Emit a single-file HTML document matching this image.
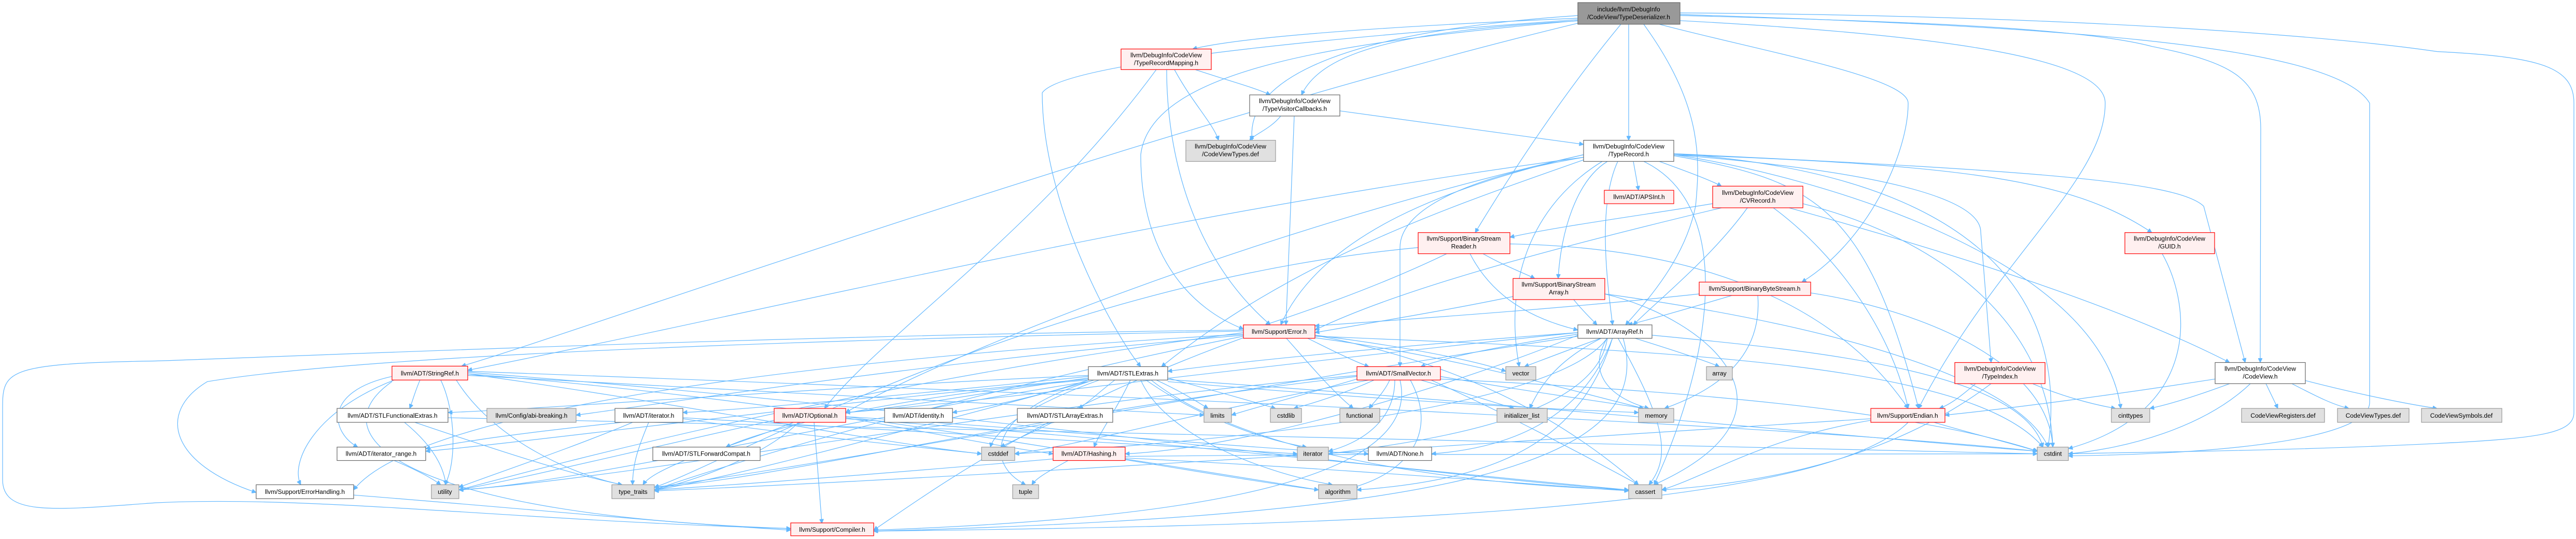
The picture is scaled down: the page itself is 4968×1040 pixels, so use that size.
<!DOCTYPE html>
<html><head><meta charset="utf-8"><style>
html,body{margin:0;padding:0;background:#fff;}
svg{display:block;}
text{font-family:"Liberation Sans",sans-serif;font-size:12px;fill:#000;text-anchor:middle;}
.e path{fill:none;stroke:#63b8ff;stroke-width:1.2;}
.w{fill:#fff;stroke:#666;stroke-width:1.2;}
.g{fill:#e0e0e0;stroke:#999;stroke-width:1.2;}
.r{fill:#fff0f0;stroke:#f00;stroke-width:1.2;}
.t{fill:#999;stroke:#666;stroke-width:1.2;}
</style></head><body>
<svg width="4968" height="1040" viewBox="0 0 4968 1040" xmlns="http://www.w3.org/2000/svg">
<defs><marker id="a" viewBox="0 0 10 10" refX="10" refY="5" markerUnits="userSpaceOnUse" markerWidth="10" markerHeight="8" orient="auto"><path d="M0,0 L10,5 L0,10 z" fill="#63b8ff" stroke="#63b8ff"/></marker></defs>
<g transform="scale(1,0.995)">
<g class="e">
<path marker-end="url(#a)" d="M3050,35 C2700,50 2400,70 2300,95"/>
<path marker-end="url(#a)" d="M3050,40 C2700,60 2550,100 2510,184"/>
<path marker-end="url(#a)" d="M3045,30 C2600,60 2400,150 2415,272"/>
<path marker-end="url(#a)" d="M3141,47 L3141,272"/>
<path marker-end="url(#a)" d="M3126,47 C3000,200 2900,360 2845,451"/>
<path marker-end="url(#a)" d="M3170,47 C3280,200 3280,300 3270,400 C3250,500 3180,580 3135,630"/>
<path marker-end="url(#a)" d="M3200,47 C3400,100 3680,150 3680,200 C3680,300 3600,470 3475,547"/>
<path marker-end="url(#a)" d="M3240,30 C3600,40 4000,50 4150,90 C4300,120 4360,150 4360,250 L4359,703"/>
<path marker-end="url(#a)" d="M3043,40 C2600,80 2220,130 2200,300 C2200,500 2300,600 2398,638"/>
<path marker-end="url(#a)" d="M3043,45 C2200,250 1100,650 890,710"/>
<path marker-end="url(#a)" d="M3043,38 C2600,70 2050,120 2010,180 C2010,400 2150,650 2200,711"/>
<path marker-end="url(#a)" d="M3240,25 C4000,30 4500,70 4700,100 C4900,110 4964,130 4964,200 L4964,800 C4964,840 4900,850 4700,860 C4400,875 4100,877 3989,880"/>
<path marker-end="url(#a)" d="M3240,40 C3800,70 4060,120 4060,200 C4060,350 3850,500 3700,792"/>
<path marker-end="url(#a)" d="M3240,28 C3900,50 4500,80 4570,200 L4570,780 C4570,850 4300,880 3989,884"/>
<path marker-end="url(#a)" d="M2305,135 C2380,160 2420,170 2450,184"/>
<path marker-end="url(#a)" d="M2265,135 C2300,200 2340,240 2350,272"/>
<path marker-end="url(#a)" d="M2250,135 C2250,300 2300,500 2450,630"/>
<path marker-end="url(#a)" d="M2230,135 C2000,450 1700,650 1590,792"/>
<path marker-end="url(#a)" d="M2470,225 C2450,250 2420,260 2410,272"/>
<path marker-end="url(#a)" d="M2584,215 C2800,245 2950,265 3054,280"/>
<path marker-end="url(#a)" d="M2496,225 C2490,400 2485,500 2480,630"/>
<path marker-end="url(#a)" d="M3150,313 L3160,369"/>
<path marker-end="url(#a)" d="M3200,313 C3260,335 3300,350 3320,361"/>
<path marker-end="url(#a)" d="M3100,313 C3040,350 3010,450 3005,540"/>
<path marker-end="url(#a)" d="M3120,313 C3080,400 3100,550 3110,630"/>
<path marker-end="url(#a)" d="M3054,305 C2850,340 2700,400 2700,480 L2700,711"/>
<path marker-end="url(#a)" d="M3090,313 C2950,400 2900,550 2930,711"/>
<path marker-end="url(#a)" d="M3054,300 C2800,360 2550,450 2470,630"/>
<path marker-end="url(#a)" d="M3054,305 C2200,420 1500,600 902,718"/>
<path marker-end="url(#a)" d="M3054,310 C2800,400 2500,500 2240,711"/>
<path marker-end="url(#a)" d="M3228,300 C3600,330 3820,380 3820,450 L3840,703"/>
<path marker-end="url(#a)" d="M3228,298 C3900,330 4200,350 4250,400 L4330,703"/>
<path marker-end="url(#a)" d="M3228,300 C3800,320 4000,350 4150,451"/>
<path marker-end="url(#a)" d="M3228,302 C3500,350 3600,400 3700,792"/>
<path marker-end="url(#a)" d="M3228,298 C3700,330 4000,500 3950,867"/>
<path marker-end="url(#a)" d="M3228,300 C3500,340 4050,500 4090,792"/>
<path marker-end="url(#a)" d="M3054,300 C2400,450 1800,700 1631,800"/>
<path marker-end="url(#a)" d="M3170,313 C3350,400 3300,700 3190,940"/>
<path marker-end="url(#a)" d="M3303,395 C3150,420 3000,440 2912,460"/>
<path marker-end="url(#a)" d="M3370,403 C3300,500 3200,580 3150,630"/>
<path marker-end="url(#a)" d="M3320,403 C3000,480 2700,560 2536,640"/>
<path marker-end="url(#a)" d="M3420,403 C3550,500 3650,650 3680,792"/>
<path marker-end="url(#a)" d="M3450,403 C3800,500 4100,600 4300,703"/>
<path marker-end="url(#a)" d="M3477,395 C3700,450 3950,600 3959,867"/>
<path marker-end="url(#a)" d="M2860,492 C2900,515 2940,530 2960,540"/>
<path marker-end="url(#a)" d="M2835,492 C2880,580 2960,620 3043,640"/>
<path marker-end="url(#a)" d="M2790,492 C2650,560 2500,610 2440,630"/>
<path marker-end="url(#a)" d="M2912,473 C3300,480 3550,600 3680,792"/>
<path marker-end="url(#a)" d="M2735,480 C2000,550 1400,900 1262,945"/>
<path marker-end="url(#a)" d="M3035,581 C3050,600 3070,620 3080,630"/>
<path marker-end="url(#a)" d="M2918,575 C2800,600 2650,625 2536,645"/>
<path marker-end="url(#a)" d="M3095,570 C3300,620 3500,800 3190,940"/>
<path marker-end="url(#a)" d="M3095,570 C3600,640 3900,750 3950,867"/>
<path marker-end="url(#a)" d="M3340,573 C3250,600 3180,620 3140,630"/>
<path marker-end="url(#a)" d="M3277,570 C3000,600 2700,620 2536,632"/>
<path marker-end="url(#a)" d="M3390,573 C3400,700 3300,760 3210,792"/>
<path marker-end="url(#a)" d="M3492,568 C3700,600 3950,700 3959,867"/>
<path marker-end="url(#a)" d="M2480,655 C2520,700 2570,760 2610,792"/>
<path marker-end="url(#a)" d="M2520,655 C2570,680 2610,700 2640,711"/>
<path marker-end="url(#a)" d="M2536,650 C2700,670 2850,700 2904,720"/>
<path marker-end="url(#a)" d="M2398,648 C1500,700 800,800 682,950"/>
<path marker-end="url(#a)" d="M2398,650 C1800,700 1300,780 1111,805"/>
<path marker-end="url(#a)" d="M2398,655 C2000,800 1800,950 1685,1028"/>
<path marker-end="url(#a)" d="M2536,650 C2800,700 3000,800 3160,940"/>
<path marker-end="url(#a)" d="M2536,655 C2800,690 3000,750 3170,792"/>
<path marker-end="url(#a)" d="M2398,645 C1600,750 1000,920 885,950"/>
<path marker-end="url(#a)" d="M2398,652 C1900,750 1400,900 1262,950"/>
<path marker-end="url(#a)" d="M2536,652 C3200,680 3800,700 3940,867"/>
<path marker-end="url(#a)" d="M2398,640 C1500,650 600,690 300,700 C0,705 5,720 5,800 L5,930 C5,1000 100,990 300,975 C600,960 1000,1010 1525,1025"/>
<path marker-end="url(#a)" d="M2398,642 C1500,660 700,690 400,740 C300,800 330,900 494,955"/>
<path marker-end="url(#a)" d="M3043,648 C2900,670 2800,690 2740,711"/>
<path marker-end="url(#a)" d="M3090,655 C3020,680 2970,700 2940,711"/>
<path marker-end="url(#a)" d="M3150,655 C3230,680 3290,700 3316,711"/>
<path marker-end="url(#a)" d="M3100,655 C3060,720 3100,770 3180,792"/>
<path marker-end="url(#a)" d="M3090,655 C3000,700 2970,750 2950,792"/>
<path marker-end="url(#a)" d="M3120,655 C3200,800 3230,880 3180,940"/>
<path marker-end="url(#a)" d="M3110,655 C3050,850 2900,930 2617,950"/>
<path marker-end="url(#a)" d="M3100,655 C3080,800 2800,850 2562,880"/>
<path marker-end="url(#a)" d="M3110,655 C3050,820 2900,870 2761,880"/>
<path marker-end="url(#a)" d="M3043,645 C2700,670 2400,700 2252,720"/>
<path marker-end="url(#a)" d="M3043,650 C2800,750 2400,870 2170,880"/>
<path marker-end="url(#a)" d="M3043,645 C2500,700 1900,780 1631,800"/>
<path marker-end="url(#a)" d="M3130,655 C3200,900 2800,1000 1685,1030"/>
<path marker-end="url(#a)" d="M3043,652 C2400,750 1600,900 1262,945"/>
<path marker-end="url(#a)" d="M3186,650 C3500,680 3900,720 3940,867"/>
<path marker-end="url(#a)" d="M3100,655 C3000,800 2300,860 1957,880"/>
<path marker-end="url(#a)" d="M2650,737 C2600,760 2540,780 2495,792"/>
<path marker-end="url(#a)" d="M2680,737 C2670,760 2650,780 2640,792"/>
<path marker-end="url(#a)" d="M2740,737 C2820,760 2880,780 2920,792"/>
<path marker-end="url(#a)" d="M2778,730 C2950,760 3100,780 3170,792"/>
<path marker-end="url(#a)" d="M2720,737 C2780,850 2700,920 2610,945"/>
<path marker-end="url(#a)" d="M2760,737 C2900,800 3050,880 3160,940"/>
<path marker-end="url(#a)" d="M2690,737 C2690,820 2620,860 2562,875"/>
<path marker-end="url(#a)" d="M2640,737 C2300,800 2100,860 1957,880"/>
<path marker-end="url(#a)" d="M2700,737 C2750,950 2200,1010 1685,1028"/>
<path marker-end="url(#a)" d="M2617,730 C2000,800 1500,930 1262,945"/>
<path marker-end="url(#a)" d="M2617,728 C2000,780 1200,930 885,950"/>
<path marker-end="url(#a)" d="M2617,735 C2500,770 2420,790 2375,805"/>
<path marker-end="url(#a)" d="M2778,735 C3300,760 3700,800 3930,875"/>
<path marker-end="url(#a)" d="M2150,737 C2120,760 2100,780 2080,792"/>
<path marker-end="url(#a)" d="M2099,737 C2000,770 1900,790 1837,800"/>
<path marker-end="url(#a)" d="M2099,733 C1900,760 1750,790 1631,800"/>
<path marker-end="url(#a)" d="M2099,730 C1800,760 1500,790 1317,800"/>
<path marker-end="url(#a)" d="M2099,728 C1600,750 1100,790 864,800"/>
<path marker-end="url(#a)" d="M2099,735 C1600,780 1000,860 821,875"/>
<path marker-end="url(#a)" d="M2099,737 C1800,760 1500,820 1400,867"/>
<path marker-end="url(#a)" d="M2120,737 C2000,780 1920,830 1910,867"/>
<path marker-end="url(#a)" d="M2180,737 C2150,800 2120,840 2110,867"/>
<path marker-end="url(#a)" d="M2110,737 C1900,800 1900,900 1978,940"/>
<path marker-end="url(#a)" d="M2230,737 C2280,760 2310,780 2330,792"/>
<path marker-end="url(#a)" d="M2252,733 C2350,760 2420,780 2460,792"/>
<path marker-end="url(#a)" d="M2252,740 C2600,770 2900,790 3160,800"/>
<path marker-end="url(#a)" d="M2200,737 C2250,850 2450,920 2570,940"/>
<path marker-end="url(#a)" d="M2220,737 C2400,880 2800,940 3141,950"/>
<path marker-end="url(#a)" d="M2210,737 C2300,800 2420,850 2520,867"/>
<path marker-end="url(#a)" d="M2099,740 C1700,800 1100,940 885,950"/>
<path marker-end="url(#a)" d="M2099,740 C1800,820 1400,930 1262,950"/>
<path marker-end="url(#a)" d="M2252,736 C2900,780 3600,850 3929,875"/>
<path marker-end="url(#a)" d="M810,737 C800,760 795,780 790,792"/>
<path marker-end="url(#a)" d="M756,730 C620,760 640,840 690,867"/>
<path marker-end="url(#a)" d="M850,737 C880,800 880,900 858,940"/>
<path marker-end="url(#a)" d="M880,737 C950,850 1100,920 1200,940"/>
<path marker-end="url(#a)" d="M760,737 C600,800 560,900 580,940"/>
<path marker-end="url(#a)" d="M756,740 C600,850 800,1000 1525,1025"/>
<path marker-end="url(#a)" d="M902,725 C1300,780 1700,860 1893,880"/>
<path marker-end="url(#a)" d="M902,725 C1600,780 2300,920 2543,950"/>
<path marker-end="url(#a)" d="M902,722 C1800,790 2800,930 3141,950"/>
<path marker-end="url(#a)" d="M902,720 C2000,760 3400,820 3929,875"/>
<path marker-end="url(#a)" d="M902,728 C1500,760 2100,795 2322,805"/>
<path marker-end="url(#a)" d="M780,819 C830,860 855,900 860,940"/>
<path marker-end="url(#a)" d="M800,819 C950,870 1100,920 1200,940"/>
<path marker-end="url(#a)" d="M864,810 C1800,830 3000,860 3929,880"/>
<path marker-end="url(#a)" d="M1200,819 C1000,840 900,855 821,870"/>
<path marker-end="url(#a)" d="M1220,819 C1100,870 950,920 885,945"/>
<path marker-end="url(#a)" d="M1251,819 C1230,870 1220,900 1220,940"/>
<path marker-end="url(#a)" d="M1317,812 C1500,840 1800,870 1893,880"/>
<path marker-end="url(#a)" d="M1317,810 C1800,840 2300,870 2502,880"/>
<path marker-end="url(#a)" d="M760,893 C800,910 830,925 850,940"/>
<path marker-end="url(#a)" d="M1530,819 C1480,840 1430,855 1400,867"/>
<path marker-end="url(#a)" d="M1631,810 C1800,840 1950,870 2031,880"/>
<path marker-end="url(#a)" d="M1631,808 C2000,830 2400,870 2639,880"/>
<path marker-end="url(#a)" d="M1570,819 L1585,1015"/>
<path marker-end="url(#a)" d="M1540,819 C1480,880 1350,930 1262,950"/>
<path marker-end="url(#a)" d="M1493,815 C1200,880 1000,930 885,950"/>
<path marker-end="url(#a)" d="M1631,812 C2200,850 2800,920 3141,950"/>
<path marker-end="url(#a)" d="M2030,819 C1990,840 1950,855 1930,867"/>
<path marker-end="url(#a)" d="M1320,893 C1280,910 1250,925 1240,940"/>
<path marker-end="url(#a)" d="M2060,893 C2030,910 2000,925 1990,940"/>
<path marker-end="url(#a)" d="M2170,890 C2300,910 2450,935 2543,950"/>
<path marker-end="url(#a)" d="M2170,888 C2600,910 2900,935 3141,952"/>
<path marker-end="url(#a)" d="M2031,890 C1800,910 1500,935 1262,950"/>
<path marker-end="url(#a)" d="M2170,885 C2800,878 3500,878 3929,880"/>
<path marker-end="url(#a)" d="M682,960 C1000,985 1300,1015 1525,1028"/>
<path marker-end="url(#a)" d="M3810,744 C3780,770 3760,785 3740,792"/>
<path marker-end="url(#a)" d="M3920,744 C3980,770 4040,785 4080,792"/>
<path marker-end="url(#a)" d="M3840,744 C3700,850 3500,930 3205,950"/>
<path marker-end="url(#a)" d="M4272,735 C4050,770 3850,795 3751,805"/>
<path marker-end="url(#a)" d="M4300,744 C4230,770 4180,785 4146,792"/>
<path marker-end="url(#a)" d="M4370,744 L4393,792"/>
<path marker-end="url(#a)" d="M4420,744 C4470,770 4500,785 4530,792"/>
<path marker-end="url(#a)" d="M4446,738 C4550,765 4650,785 4700,792"/>
<path marker-end="url(#a)" d="M4340,744 C4250,830 4100,870 3989,880"/>
<path marker-end="url(#a)" d="M4170,492 C4230,600 4240,800 3989,870"/>
<path marker-end="url(#a)" d="M3730,819 C3800,840 3880,860 3929,875"/>
<path marker-end="url(#a)" d="M3680,819 C3500,1000 2500,1020 1685,1030"/>
<path marker-end="url(#a)" d="M3608,815 C3400,850 3300,920 3205,950"/>
<path marker-end="url(#a)" d="M3608,812 C3000,850 2000,920 1262,952"/>
</g>
<g>
<rect class="t" x="3043" y="5" width="197" height="42"/><text x="3141" y="22">include/llvm/DebugInfo</text><text x="3141" y="37">/CodeView/TypeDeserializer.h</text>
<rect class="r" x="2162" y="95" width="174" height="40"/><text x="2249" y="111">llvm/DebugInfo/CodeView</text><text x="2249" y="126">/TypeRecordMapping.h</text>
<rect class="w" x="2410" y="184" width="174" height="41"/><text x="2497" y="200">llvm/DebugInfo/CodeView</text><text x="2497" y="215">/TypeVisitorCallbacks.h</text>
<rect class="g" x="2287" y="272" width="173" height="41"/><text x="2373" y="288">llvm/DebugInfo/CodeView</text><text x="2373" y="303">/CodeViewTypes.def</text>
<rect class="w" x="3054" y="272" width="174" height="41"/><text x="3141" y="288">llvm/DebugInfo/CodeView</text><text x="3141" y="303">/TypeRecord.h</text>
<rect class="r" x="3094" y="369" width="134" height="26"/><text x="3161" y="386">llvm/ADT/APSInt.h</text>
<rect class="r" x="3303" y="361" width="174" height="42"/><text x="3390" y="378">llvm/DebugInfo/CodeView</text><text x="3390" y="393">/CVRecord.h</text>
<rect class="r" x="2735" y="451" width="177" height="41"/><text x="2823" y="467">llvm/Support/BinaryStream</text><text x="2823" y="482">Reader.h</text>
<rect class="r" x="2918" y="540" width="177" height="41"/><text x="3006" y="556">llvm/Support/BinaryStream</text><text x="3006" y="571">Array.h</text>
<rect class="r" x="3277" y="547" width="215" height="26"/><text x="3384" y="564">llvm/Support/BinaryByteStream.h</text>
<rect class="r" x="4098" y="451" width="173" height="41"/><text x="4184" y="467">llvm/DebugInfo/CodeView</text><text x="4184" y="482">/GUID.h</text>
<rect class="r" x="2398" y="630" width="138" height="26"/><text x="2467" y="647">llvm/Support/Error.h</text>
<rect class="w" x="3043" y="630" width="143" height="26"/><text x="3114" y="647">llvm/ADT/ArrayRef.h</text>
<rect class="r" x="756" y="710" width="146" height="27"/><text x="829" y="728">llvm/ADT/StringRef.h</text>
<rect class="w" x="2099" y="711" width="153" height="26"/><text x="2175" y="728">llvm/ADT/STLExtras.h</text>
<rect class="r" x="2617" y="711" width="161" height="26"/><text x="2697" y="728">llvm/ADT/SmallVector.h</text>
<rect class="g" x="2904" y="711" width="58" height="26"/><text x="2933" y="728">vector</text>
<rect class="g" x="3291" y="711" width="50" height="26"/><text x="3316" y="728">array</text>
<rect class="r" x="3770" y="703" width="174" height="41"/><text x="3857" y="719">llvm/DebugInfo/CodeView</text><text x="3857" y="734">/TypeIndex.h</text>
<rect class="w" x="4272" y="703" width="174" height="41"/><text x="4359" y="719">llvm/DebugInfo/CodeView</text><text x="4359" y="734">/CodeView.h</text>
<rect class="w" x="650" y="792" width="214" height="27"/><text x="757" y="810">llvm/ADT/STLFunctionalExtras.h</text>
<rect class="g" x="939" y="792" width="172" height="27"/><text x="1025" y="810">llvm/Config/abi-breaking.h</text>
<rect class="w" x="1186" y="792" width="131" height="27"/><text x="1251" y="810">llvm/ADT/iterator.h</text>
<rect class="r" x="1493" y="792" width="138" height="27"/><text x="1562" y="810">llvm/ADT/Optional.h</text>
<rect class="w" x="1706" y="792" width="131" height="27"/><text x="1771" y="810">llvm/ADT/identity.h</text>
<rect class="w" x="1962" y="792" width="184" height="27"/><text x="2054" y="810">llvm/ADT/STLArrayExtras.h</text>
<rect class="g" x="2322" y="792" width="53" height="27"/><text x="2348" y="810">limits</text>
<rect class="g" x="2450" y="792" width="60" height="27"/><text x="2480" y="810">cstdlib</text>
<rect class="g" x="2584" y="792" width="77" height="27"/><text x="2622" y="810">functional</text>
<rect class="g" x="2887" y="792" width="97" height="27"/><text x="2935" y="810">initializer_list</text>
<rect class="g" x="3160" y="792" width="68" height="27"/><text x="3194" y="810">memory</text>
<rect class="r" x="3608" y="792" width="143" height="27"/><text x="3679" y="810">llvm/Support/Endian.h</text>
<rect class="g" x="4072" y="792" width="74" height="27"/><text x="4109" y="810">cinttypes</text>
<rect class="g" x="4323" y="792" width="160" height="27"/><text x="4403" y="810">CodeViewRegisters.def</text>
<rect class="g" x="4508" y="792" width="138" height="27"/><text x="4577" y="810">CodeViewTypes.def</text>
<rect class="g" x="4670" y="792" width="155" height="27"/><text x="4747" y="810">CodeViewSymbols.def</text>
<rect class="w" x="650" y="867" width="171" height="26"/><text x="735" y="884">llvm/ADT/iterator_range.h</text>
<rect class="w" x="1259" y="867" width="207" height="26"/><text x="1362" y="884">llvm/ADT/STLForwardCompat.h</text>
<rect class="g" x="1893" y="867" width="64" height="26"/><text x="1925" y="884">cstddef</text>
<rect class="r" x="2031" y="867" width="139" height="26"/><text x="2100" y="884">llvm/ADT/Hashing.h</text>
<rect class="g" x="2502" y="867" width="60" height="26"/><text x="2532" y="884">iterator</text>
<rect class="w" x="2639" y="867" width="122" height="26"/><text x="2700" y="884">llvm/ADT/None.h</text>
<rect class="g" x="3929" y="867" width="60" height="26"/><text x="3959" y="884">cstdint</text>
<rect class="w" x="494" y="940" width="188" height="27"/><text x="588" y="958">llvm/Support/ErrorHandling.h</text>
<rect class="g" x="832" y="940" width="53" height="27"/><text x="858" y="958">utility</text>
<rect class="g" x="1180" y="940" width="82" height="27"/><text x="1221" y="958">type_traits</text>
<rect class="g" x="1953" y="940" width="50" height="27"/><text x="1978" y="958">tuple</text>
<rect class="g" x="2543" y="940" width="74" height="27"/><text x="2580" y="958">algorithm</text>
<rect class="g" x="3141" y="940" width="64" height="27"/><text x="3173" y="958">cassert</text>
<rect class="r" x="1525" y="1014" width="160" height="25"/><text x="1605" y="1031">llvm/Support/Compiler.h</text>
</g>
</g>
</svg>
</body></html>
